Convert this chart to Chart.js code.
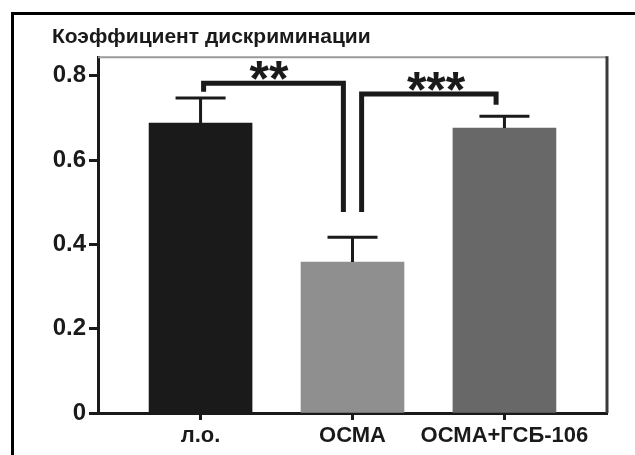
<!DOCTYPE html>
<html>
<head>
<meta charset="utf-8">
<script src="https://cdn.jsdelivr.net/npm/chart.js@4"></script>
<style>
  body { margin: 0; background: #fff; }
  #wrap { position: relative; width: 635px; height: 455px; overflow: hidden; }
  #frame { position: absolute; left: 11px; top: 12px; width: 700px; height: 500px;
           border-left: 3px solid #000; border-top: 3px solid #000; }
  canvas { position: absolute; left: 0; top: 0; }
</style>
</head>
<body>
<div id="wrap">
  <div id="frame"></div>
  <canvas id="chart" width="635" height="455"></canvas>
</div>
<script>
// Data
const categories = ["л.о.", "ОСМА", "ОСМА+ГСБ-106"];
const positions = [0, 1, 2];
const means = [0.688, 0.358, 0.676];
const errors = [0.059, 0.059, 0.028];
const barColors = ["#1a1a1a", "#8f8f8f", "#686868"];
const yTicks = [0, 0.2, 0.4, 0.6, 0.8];

// significance brackets (data units) and their labels
const bracketA = [[0.02, 0.762], [0.02, 0.782], [0.94, 0.782], [0.94, 0.477]];
const bracketB = [[1.06, 0.477], [1.06, 0.757], [1.945, 0.757], [1.945, 0.731]];
const starLabels = ["**", "***"];
const starX = [0.45, 1.55];
const starY = [0.812, 0.787];

const ink = "#1a1a1a";
const fam = "'Liberation Sans', Arial, sans-serif";

// error bars: stem from bar top to cap
const errorBars = {
  id: "errorBars",
  afterDatasetsDraw(chart) {
    const { ctx, scales: { x, y } } = chart;
    ctx.save();
    ctx.strokeStyle = ink;
    ctx.lineWidth = 3;
    positions.forEach((p, i) => {
      const px = x.getPixelForValue(p);
      const y0 = y.getPixelForValue(means[i]);
      const y1 = y.getPixelForValue(means[i] + errors[i]);
      ctx.beginPath();
      ctx.moveTo(px, y0);
      ctx.lineTo(px, y1);
      ctx.moveTo(px - 25, y1);
      ctx.lineTo(px + 25, y1);
      ctx.stroke();
    });
    ctx.restore();
  }
};

// plot box (thin top and right edges) and the asterisks
const extras = {
  id: "extras",
  afterDraw(chart) {
    const { ctx, chartArea: a, scales: { x, y } } = chart;
    ctx.save();
    ctx.strokeStyle = "#9a9a9a";
    ctx.lineWidth = 2;
    ctx.beginPath();
    ctx.moveTo(a.left, a.top);
    ctx.lineTo(a.right, a.top);
    ctx.stroke();
    ctx.strokeStyle = "#3a3a3a";
    ctx.lineWidth = 3;
    ctx.beginPath();
    ctx.moveTo(a.right, a.top - 1);
    ctx.lineTo(a.right, a.bottom);
    ctx.stroke();

    ctx.fillStyle = ink;
    ctx.font = "bold 50px " + fam;
    ctx.textAlign = "center";
    ctx.textBaseline = "alphabetic";
    starLabels.forEach((s, i) => {
      const m = ctx.measureText(s);
      const mid = (m.actualBoundingBoxAscent - m.actualBoundingBoxDescent) / 2;
      ctx.fillText(s, x.getPixelForValue(starX[i]), y.getPixelForValue(starY[i]) + mid);
    });
    ctx.restore();
  }
};

const bracketStyle = {
  type: "line",
  borderColor: ink,
  borderWidth: 5,
  pointRadius: 0,
  fill: false,
  tension: 0,
  borderJoinStyle: "miter",
  borderCapStyle: "butt"
};

const ctx = document.getElementById("chart").getContext("2d");
new Chart(ctx, {
  type: "bar",
  data: {
    datasets: [
      {
        data: positions.map((p, i) => ({ x: p, y: means[i] })),
        backgroundColor: barColors,
        borderWidth: 0,
        barThickness: 103,
        order: 2
      },
      Object.assign({ data: bracketA.map(([x, y]) => ({ x, y })), order: 1 }, bracketStyle),
      Object.assign({ data: bracketB.map(([x, y]) => ({ x, y })), order: 1 }, bracketStyle)
    ]
  },
  options: {
    responsive: false,
    animation: false,
    layout: { padding: { left: 52, right: 28, top: 0, bottom: 0 } },
    plugins: {
      legend: { display: false },
      tooltip: { enabled: false },
      title: {
        display: true,
        text: "Коэффициент дискриминации",
        align: "start",
        color: ink,
        font: { family: fam, size: 21, weight: "bold", lineHeight: 1.2 },
        padding: { top: 25, bottom: 7 }
      }
    },
    scales: {
      x: {
        type: "linear",
        offset: false,
        grace: 0,
        min: -0.675,
        max: 2.675,
        afterBuildTicks: (scale) => { scale.ticks = positions.map(v => ({ value: v })); },
        afterFit: (scale) => { scale.height = 42; },
        ticks: {
          callback: (v) => categories[positions.indexOf(v)],
          autoSkip: false,
          maxRotation: 0,
          color: ink,
          padding: 3,
          font: { family: fam, size: 22, weight: "bold" }
        },
        grid: { drawOnChartArea: false, offset: false, tickLength: 7, tickWidth: 3, color: ink },
        border: { color: ink, width: 3 }
      },
      y: {
        min: 0,
        max: 0.844,
        afterBuildTicks: (scale) => { scale.ticks = yTicks.map(v => ({ value: v })); },
        afterFit: (scale) => { scale.width = 46; },
        ticks: {
          callback: (v) => String(v),
          color: ink,
          padding: 3,
          font: { family: fam, size: 24, weight: "bold" }
        },
        grid: { drawOnChartArea: false, tickLength: 9, tickWidth: 3, color: ink },
        border: { color: ink, width: 3 }
      }
    }
  },
  plugins: [errorBars, extras]
});
</script>
</body>
</html>
